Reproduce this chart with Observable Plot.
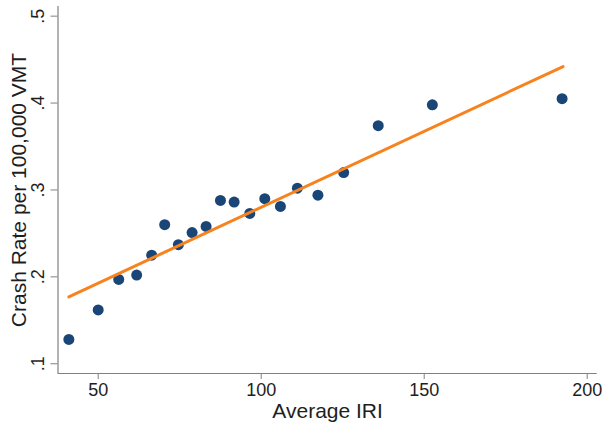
<!DOCTYPE html>
<html>
<head>
<meta charset="utf-8">
<script src="https://cdn.jsdelivr.net/npm/d3@7"></script>
<script src="https://cdn.jsdelivr.net/npm/@observablehq/plot@0.6"></script>
<style>
  html, body { margin: 0; padding: 0; background: #fff; }
</style>
</head>
<body>
<div id="chart"></div>
<script>
// Data
const iri = [41.0, 50.0, 56.3, 61.8, 66.4, 70.4, 74.6, 78.8, 83.1, 87.5, 91.7, 96.5, 101.1, 105.9, 111.1, 117.4, 125.3, 135.9, 152.5, 192.3];
const crashRate = [0.128, 0.162, 0.197, 0.202, 0.225, 0.260, 0.237, 0.251, 0.258, 0.288, 0.286, 0.273, 0.290, 0.281, 0.302, 0.294, 0.320, 0.374, 0.398, 0.405];
const fitIRI = [41.0, 192.6];
const fitRate = [0.177, 0.442];
const xTicks = [50, 100, 150, 200];
const yTicks = [0.1, 0.2, 0.3, 0.4, 0.5];
const xDomain = [37.67, 203.07];
const yDomain = [0.0888, 0.5111];
const xTitle = "Average IRI";
const yTitle = "Crash Rate per 100,000 VMT";

const points = iri.map((x, i) => ({x, y: crashRate[i]}));
const fit = fitIRI.map((x, i) => ({x, y: fitRate[i]}));
const fmtY = d => d3.format(".1f")(d).replace(/^0/, "");
const axisGray = "#808080";
const textColor = "#1e1e1e";

const chart = Plot.plot({
  width: 602,
  height: 428,
  marginLeft: 57.5,
  marginRight: 5.3,
  marginTop: 6,
  marginBottom: 55,
  style: {fontFamily: "'Liberation Sans', Arial, sans-serif", background: "#fff"},
  x: {domain: xDomain},
  y: {domain: yDomain},
  marks: [
    Plot.ruleX([xDomain[0]], {stroke: axisGray, strokeWidth: 1.2}),
    Plot.ruleY([yDomain[0]], {stroke: axisGray, strokeWidth: 1.2}),
    Plot.axisX({ticks: xTicks, tickSize: 6, tickPadding: 4, fontSize: 18, stroke: axisGray, fill: textColor, label: null}),
    Plot.axisY({ticks: yTicks, tickSize: 7, tickFormat: () => "", stroke: axisGray, label: null}),
    Plot.text(yTicks, {y: d => d, text: fmtY, frameAnchor: "left", rotate: -90, textAnchor: "middle", lineAnchor: "bottom", dx: -14, fontSize: 18, fill: textColor}),
    Plot.text([xTitle], {frameAnchor: "bottom", textAnchor: "middle", lineAnchor: "bottom", dy: 44, fontSize: 21, fill: textColor}),
    Plot.text([yTitle], {frameAnchor: "left", rotate: -90, textAnchor: "middle", lineAnchor: "bottom", dx: -32.5, fontSize: 21, fill: textColor}),
    Plot.dot(points, {x: "x", y: "y", r: 5.5, fill: "#1a4677", stroke: "none"}),
    Plot.line(fit, {x: "x", y: "y", stroke: "#f7831f", strokeWidth: 3})
  ]
});
document.getElementById("chart").appendChild(chart);
</script>
</body>
</html>
